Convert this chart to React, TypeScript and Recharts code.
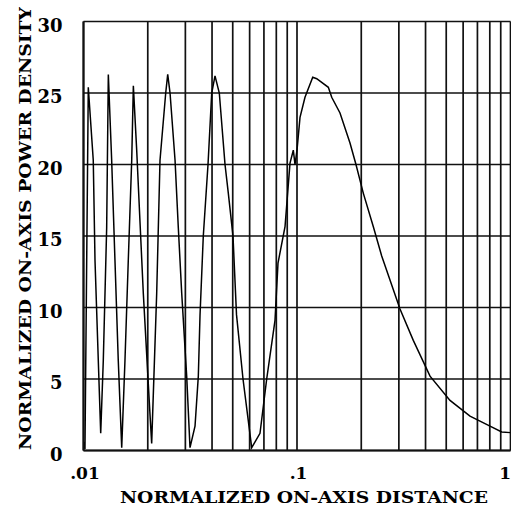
import React from "react";
import { LineChart, Line, XAxis, YAxis, CartesianGrid } from "recharts";

const distance = [
  0.01, 0.01016, 0.01053, 0.01111, 0.01132, 0.01173, 0.01204, 0.01238, 0.01284, 0.01307,
  0.01355, 0.01404, 0.01455, 0.0151, 0.01564, 0.01621, 0.01682, 0.01712, 0.01775, 0.01839,
  0.01906, 0.01972, 0.0204, 0.02086, 0.02202, 0.02282, 0.02427, 0.0248, 0.02543, 0.02684,
  0.0278, 0.02884, 0.03043, 0.03154, 0.03329, 0.0345, 0.03514, 0.0364, 0.0383, 0.03986,
  0.0413, 0.04326, 0.04601, 0.04767, 0.05014, 0.05208, 0.05586, 0.06135, 0.06709, 0.07212,
  0.07888, 0.08147, 0.08788, 0.09273, 0.0961, 0.09787, 0.1, 0.1033, 0.109, 0.1185,
  0.1237, 0.1402, 0.1454, 0.159, 0.1771, 0.1889, 0.2044, 0.2278, 0.2493, 0.3037,
  0.3505, 0.4198, 0.5208, 0.6461, 0.8017, 0.9094, 1.0,
];

const density = [
  0.6, 0.1, 25.4, 20.3, 13.3, 6.3, 1.2, 6.3, 15.6, 26.3,
  20.3, 13.3, 6.3, 0.2, 6.3, 13.3, 20.3, 25.5, 21, 16,
  11, 7, 3, 0.5, 11, 20.3, 25, 26.3, 25, 20.3,
  15.6, 11, 5.2, 0.2, 1.7, 5.2, 9.5, 15, 20, 25,
  26.2, 25, 20, 18, 15, 9.5, 5, 0.2, 1.2, 5,
  9.1, 13.1, 15.65, 20.1, 21, 20, 21, 23.3, 24.7, 26.1,
  26, 25.4, 24.7, 23.6, 21.5, 20, 18, 15.65, 13.6, 9.9,
  7.7, 5.2, 3.5, 2.4, 1.7, 1.3, 1.25,
];

const xGridTicks = [
  0.01, 0.02, 0.03, 0.04, 0.05, 0.06, 0.07, 0.08, 0.09,
  0.1, 0.2, 0.3, 0.4, 0.5, 0.6, 0.7, 0.8, 0.9, 1,
];
const xLabeledTicks = [0.01, 0.1, 1];
const xTickLabels = [".01", ".1", "1"];
const yTicks = [0, 5, 10, 15, 20, 25, 30];

const xTitle = "NORMALIZED ON-AXIS DISTANCE";
const yTitle = "NORMALIZED ON-AXIS POWER DENSITY";

const data = distance.map((d, i) => ({ x: d, y: density[i] }));

const FONT = "'DejaVu Serif', 'Liberation Serif', serif";

const XTick = (props: any) => {
  const { x, y, payload } = props;
  const idx = xLabeledTicks.findIndex((t) => Math.abs(t - payload.value) < 1e-9);
  if (idx < 0) return null;
  const isLast = idx === xLabeledTicks.length - 1;
  return (
    <text
      x={isLast ? 511 : x + 1.5}
      y={y + 28}
      textAnchor={isLast ? "end" : "middle"}
      fontFamily={FONT}
      fontWeight="bold"
      fontSize={17}
      fill="#000"
    >
      {xTickLabels[idx]}
    </text>
  );
};

const YTick = (props: any) => {
  const { x, y, payload } = props;
  return (
    <text
      x={x - 21}
      y={y + 10}
      textAnchor="end"
      fontFamily={FONT}
      fontWeight="bold"
      fontSize={18}
      fill="#000"
    >
      {String(payload.value)}
    </text>
  );
};

export default function App() {
  return (
    <div
      style={{
        position: "absolute",
        left: 0,
        top: 0,
        width: 511,
        height: 510,
        overflow: "hidden",
        background: "#fff",
      }}
    >
      <LineChart
        width={511}
        height={510}
        data={data}
        margin={{ top: 21.5, right: 0.5, bottom: 0, left: 0 }}
      >
        <CartesianGrid stroke="#111" strokeWidth={1.7} />
        <XAxis
          type="number"
          dataKey="x"
          scale="log"
          domain={[0.01, 1]}
          ticks={xGridTicks}
          interval={0}
          allowDataOverflow
          height={59.5}
          tickLine={false}
          axisLine={{ stroke: "#111", strokeWidth: 2 }}
          tickSize={0}
          tickMargin={0}
          tick={<XTick />}
        />
        <YAxis
          type="number"
          domain={[0, 30]}
          ticks={yTicks}
          interval={0}
          width={83.5}
          tickLine={false}
          axisLine={{ stroke: "#111", strokeWidth: 2 }}
          tickSize={0}
          tickMargin={0}
          tick={<YTick />}
        />
        <Line
          type="linear"
          dataKey="y"
          stroke="#000"
          strokeWidth={1.5}
          dot={false}
          isAnimationActive={false}
        />
      </LineChart>
      <svg
        width={511}
        height={510}
        style={{ position: "absolute", left: 0, top: 0, pointerEvents: "none" }}
      >
        <text
          x={120}
          y={503}
          textLength={368}
          lengthAdjust="spacingAndGlyphs"
          fontFamily={FONT}
          fontWeight="bold"
          fontSize={17}
          fill="#000"
        >
          {xTitle}
        </text>
        <text
          x={0}
          y={0}
          transform="translate(31,450) rotate(-90)"
          textLength={443}
          lengthAdjust="spacingAndGlyphs"
          fontFamily={FONT}
          fontWeight="bold"
          fontSize={17}
          fill="#000"
        >
          {yTitle}
        </text>
      </svg>
    </div>
  );
}
